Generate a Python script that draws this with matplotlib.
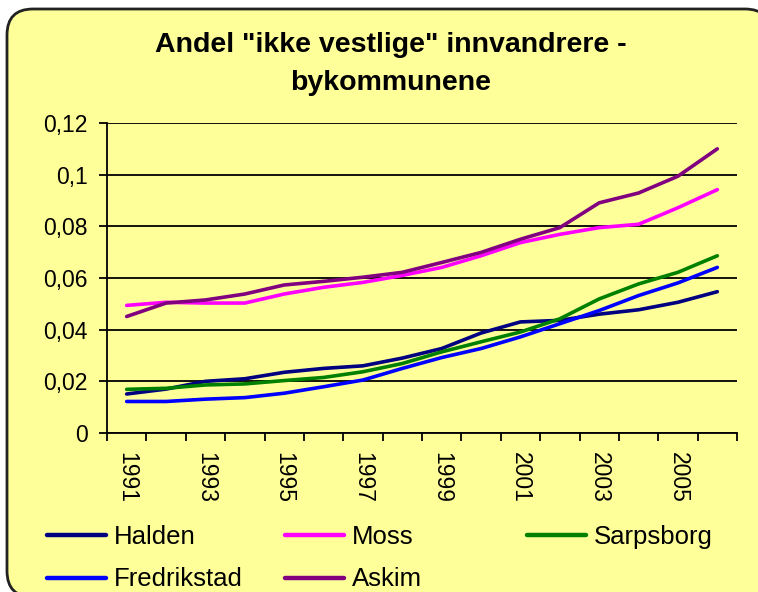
import matplotlib
matplotlib.use("Agg")
import matplotlib.pyplot as plt
from matplotlib.patches import FancyBboxPatch
from matplotlib.ticker import FuncFormatter, FixedLocator

plt.rcParams['font.family'] = ['Liberation Sans', 'DejaVu Sans']

years = list(range(1991, 2007))
halden = [0.0151, 0.0170, 0.0200, 0.0210, 0.0235, 0.0250, 0.0260, 0.0290,
          0.0327, 0.0387, 0.0430, 0.0436, 0.0460, 0.0477, 0.0506, 0.0547]
moss = [0.0494, 0.0506, 0.0503, 0.0503, 0.0538, 0.0564, 0.0583, 0.0610,
        0.0641, 0.0686, 0.0737, 0.0769, 0.0795, 0.0808, 0.0872, 0.0942]
sarpsborg = [0.0169, 0.0173, 0.0186, 0.0190, 0.0203, 0.0215, 0.0237, 0.0269,
             0.0314, 0.0353, 0.0391, 0.0442, 0.0519, 0.0577, 0.0622, 0.0686]
fredrikstad = [0.0122, 0.0122, 0.0131, 0.0137, 0.0154, 0.0179, 0.0205, 0.0250,
               0.0292, 0.0327, 0.0372, 0.0423, 0.0474, 0.0532, 0.0581, 0.0641]
askim = [0.0451, 0.0503, 0.0515, 0.0538, 0.0573, 0.0587, 0.0603, 0.0622,
         0.0660, 0.0699, 0.0750, 0.0795, 0.0891, 0.0929, 0.0994, 0.1100]

series = [("Halden", halden, "#000080"),
          ("Moss", moss, "#FF00FF"),
          ("Sarpsborg", sarpsborg, "#008000"),
          ("Fredrikstad", fredrikstad, "#0000FF"),
          ("Askim", askim, "#800080")]

W, H = 758, 592
yellow = "#FFFF99"
fig = plt.figure(figsize=(W / 100, H / 100), dpi=100)
fig.patch.set_facecolor("white")

# rounded chart area (in inches; right and bottom edges run off the picture)
bg = FancyBboxPatch((0.07, -0.05), 7.64, 5.88,
                    boxstyle="round,pad=0,rounding_size=0.26",
                    transform=fig.dpi_scale_trans, facecolor=yellow,
                    edgecolor="#222222", linewidth=2, zorder=-5)
fig.patches.append(bg)

ax = fig.add_axes([107 / W, 1 - 433 / H, (737 - 107) / W, (433 - 123) / H])
ax.set_facecolor(yellow)
ax.set_zorder(2)

x = list(range(len(years)))
lines = {}
for name, vals, col in series:
    ln, = ax.plot(x, vals, color=col, linewidth=2.6, label=name,
                  solid_capstyle="round")
    lines[name] = ln

ax.set_xlim(-0.5, len(years) - 0.5)
ax.set_ylim(0, 0.12)
ax.set_yticks([0, 0.02, 0.04, 0.06, 0.08, 0.1, 0.12])
ax.yaxis.set_major_formatter(FuncFormatter(lambda v, p: ("%g" % round(v, 2)).replace(".", ",")))
ax.yaxis.grid(True, color="black", linewidth=1.3)
ax.set_axisbelow(True)

ax.xaxis.set_major_locator(FixedLocator(x[::2]))
ax.set_xticklabels([str(y) for y in years[::2]], rotation=270)
ax.xaxis.set_minor_locator(FixedLocator([i - 0.5 for i in range(len(years) + 1)]))
ax.tick_params(axis="x", which="major", length=0, pad=14, labelsize=16.5)
ax.tick_params(axis="x", which="minor", length=6, width=1.3, direction="out")
ax.tick_params(axis="y", length=6, width=1.3, direction="out", labelsize=16.5, pad=8)

for s in ["top", "right"]:
    ax.spines[s].set_visible(False)
for s in ["left", "bottom"]:
    ax.spines[s].set_linewidth(1.3)
    ax.spines[s].set_color("black")

fig.text(391 / W, 1 - 64 / H, 'Andel "ikke vestlige" innvandrere -\nbykommunene',
         ha="center", va="center", fontsize=20.5, fontweight="bold", linespacing=1.55)

# legend in three columns as in the original
groups = [(47, ["Halden", "Fredrikstad"]), (285, ["Moss", "Askim"]), (527, ["Sarpsborg"])]
for xpos, names in groups:
    leg = fig.legend([lines[n] for n in names], names, loc="upper left",
                     bbox_to_anchor=(xpos / W, 1 - 525 / H), frameon=False,
                     fontsize=18.5, handlelength=2.3, handletextpad=0.3,
                     labelspacing=0.72, borderaxespad=0, borderpad=0)
    for l in leg.get_lines():
        l.set_linewidth(3.2)

fig.savefig("out.png", dpi=100, facecolor=fig.get_facecolor())
